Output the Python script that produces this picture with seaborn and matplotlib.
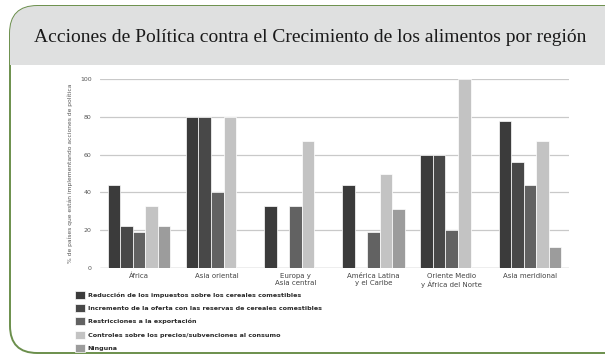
import matplotlib
matplotlib.use("Agg")
import matplotlib.pyplot as plt
from matplotlib.patches import FancyBboxPatch, Rectangle
import seaborn as sns
import pandas as pd

regions = ["África", "Asia oriental", "Europa y\nAsia central",
           "América Latina\ny el Caribe", "Oriente Medio\ny África del Norte",
           "Asia meridional"]
policies = [
    "Reducción de los impuestos sobre los cereales comestibles",
    "Incremento de la oferta con las reservas de cereales comestibles",
    "Restricciones a la exportación",
    "Controles sobre los precios/subvenciones al consumo",
    "Ninguna",
]
reduccion_impuestos = [44, 80, 33, 44, 60, 78]
incremento_oferta = [22, 80, 0, 0, 60, 56]
restricciones_export = [19, 40, 33, 19, 20, 44]
controles_precios = [33, 80, 67, 50, 100, 67]
ninguna = [22, 0, 0, 31, 0, 11]
yticks = [0, 20, 40, 60, 80, 100]

series = [reduccion_impuestos, incremento_oferta, restricciones_export,
          controles_precios, ninguna]
rows = []
for pol, vals in zip(policies, series):
    for reg, v in zip(regions, vals):
        rows.append({"region": reg, "policy": pol, "value": v})
df = pd.DataFrame(rows)

colors = ["#3b3b3b", "#484848", "#626262", "#c3c3c3", "#9c9c9c"]

sns.set_theme(style="white")
plt.rcParams["font.family"] = ["Liberation Sans Narrow", "DejaVu Sans"]

W, H = 605, 354
fig = plt.figure(figsize=(W / 100, H / 100), dpi=100)
fig.patch.set_facecolor("white")

# rounded green frame with a grey header band
frame = FancyBboxPatch((10 / W, 1 - 353 / H), 640 / W, 347 / H,
                       boxstyle="round,pad=0,rounding_size=0.045",
                       transform=fig.transFigure, facecolor="white",
                       edgecolor="#6b8f4c", linewidth=1.4, zorder=0,
                       mutation_aspect=W / H)
fig.patches.append(frame)
band = Rectangle((0, 1 - 65 / H), 1, 59 / H, transform=fig.transFigure,
                 facecolor="#dfe0e0", edgecolor="none", zorder=0.5)
band.set_clip_path(frame)
fig.patches.append(band)
fig.text(0.513, 1 - 37 / H,
         "Acciones de Política contra el Crecimiento de los alimentos por región",
         ha="center", va="center", fontsize=14, color="#1a1a1a",
         family=["Liberation Serif", "DejaVu Serif"], zorder=3)

ax = fig.add_axes([100 / W, 1 - 268 / H, 469 / W, 189 / H])
ax.set_zorder(2)
sns.barplot(data=df, x="region", y="value", hue="policy", palette=colors,
            width=0.8, edgecolor="white", linewidth=0.5, ax=ax,
            legend=True, zorder=3)

ax.set_ylim(0, 100)
ax.set_xlim(-0.5, 5.5)
ax.set_yticks(yticks)
ax.set_yticklabels([str(t) for t in yticks], fontsize=4.5, color="#555555")
ax.yaxis.grid(True, color="#c9c9c9", linewidth=0.9, zorder=0)
ax.set_axisbelow(True)
for s in ax.spines.values():
    s.set_visible(False)
ax.axhline(0, color="#b0b0b0", linewidth=0.9, zorder=1)
ax.tick_params(axis="y", length=4, width=0.8, color="#b0b0b0", pad=2)
ax.tick_params(axis="x", length=0, pad=3.5, labelsize=5, labelcolor="#444444")
ax.set_xlabel("")
ax.set_ylabel("% de países que están implementando acciones de política",
              fontsize=4.3, color="#555555", labelpad=5)

handles, labels = ax.get_legend_handles_labels()
ax.get_legend().remove()
leg = fig.legend(handles, labels, loc="upper left",
                 bbox_to_anchor=(72 / W, 1 - 288 / H), frameon=False,
                 fontsize=4.6, handlelength=1.6, handleheight=1.6,
                 handletextpad=0.45, labelspacing=0.8, borderaxespad=0)
leg.set_zorder(3)
for t in leg.get_texts():
    t.set_fontweight("bold")
    t.set_color("#2a2a2a")

fig.savefig("out.png", dpi=100, facecolor="white")
